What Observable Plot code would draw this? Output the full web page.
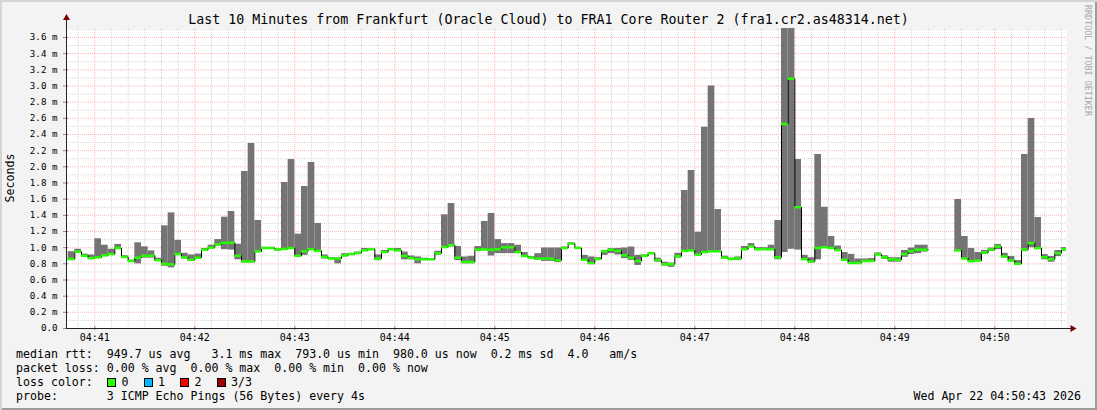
<!DOCTYPE html>
<html><head><meta charset="utf-8">
<script src="https://cdn.jsdelivr.net/npm/d3@7"></script>
<script src="https://cdn.jsdelivr.net/npm/@observablehq/plot@0.6"></script>
<style>
html,body{margin:0;padding:0;background:#f3f3f3;}
#wrap{position:relative;width:1097px;height:410px;background:#f3f3f3;overflow:hidden;font-family:"DejaVu Sans Mono",monospace;color:#000;box-shadow: inset 2px 2px 0 #d4d4d4, inset -2px -2px 0 #9c9c9c;}
#wrap svg{position:absolute;left:0;top:0;}
.t{position:absolute;white-space:pre;line-height:14px;}
#title{left:0;width:1097px;text-align:center;top:13px;font-size:13.3px;}
.leg{left:16px;font-size:11.6px;}
.sq{position:absolute;width:7px;height:7px;border:1px solid #000;}
#rrd{position:absolute;left:1083px;top:5px;writing-mode:vertical-rl;font-size:8.4px;color:#a8a8a8;white-space:pre;}
#ylab{left:-40px;top:171px;width:100px;text-align:center;font-size:11.6px;transform:rotate(-90deg);}
</style></head>
<body><div id="wrap"></div>
<script>
// ---------- data ----------
const title = "Last 10 Minutes from Frankfurt (Oracle Cloud) to FRA1 Core Router 2 (fra1.cr2.as48314.net)";
const yLabel = "Seconds";
const windowStart = "04:40:43";
const windowEnd = "04:50:43";
const firstStep = "04:40:44";
const stepSeconds = 4;
const xTickLabels = ["04:41","04:42","04:43","04:44","04:45","04:46","04:47","04:48","04:49","04:50"];
const yTicks = [0,0.2,0.4,0.6,0.8,1.0,1.2,1.4,1.6,1.8,2.0,2.2,2.4,2.6,2.8,3.0,3.2,3.4,3.6];
const yMax = 3.711;

// median rtt per 4 s step (ms); null = no data
const median = [
0.86,0.95,0.90,0.87,0.88,0.905,0.92,0.995,0.885,0.835,
0.875,0.90,0.90,0.845,0.80,0.793,0.92,0.88,0.85,0.875,
0.975,1.0,1.04,1.06,1.06,0.90,0.83,0.83,0.955,0.995,
0.995,0.975,0.985,0.995,0.90,0.955,0.98,0.96,0.885,0.865,
0.865,0.905,0.92,0.935,0.967,0.98,0.865,0.946,0.98,0.967,
0.897,0.872,0.856,0.856,0.856,0.93,1.008,1.03,0.876,0.823,
0.823,0.975,0.98,0.975,0.98,1.004,1.004,0.946,0.897,0.876,
0.864,0.864,0.864,0.843,0.996,1.05,0.996,0.85,0.81,0.86,
0.955,0.975,0.96,0.905,0.876,0.835,0.90,0.93,0.847,0.795,
0.795,0.893,0.96,0.965,0.915,0.945,0.955,0.955,0.876,0.86,
0.866,0.98,1.015,0.98,0.98,0.98,0.88,2.53,3.09,1.50,
0.858,0.828,0.996,1.006,0.996,0.97,0.85,0.81,0.81,0.835,
0.835,0.917,0.88,0.856,0.85,0.92,0.955,0.975,0.975,null,
null,null,null,0.965,0.866,0.833,0.84,0.94,0.977,1.014,
0.89,0.84,0.80,0.977,1.056,0.994,0.882,0.857,0.932,0.98];

// smoke: lowest and highest ping per step (ms)
const smokeLow = [
0.84,0.93,0.88,0.86,0.87,0.89,0.91,0.98,0.87,0.83,
0.80,0.87,0.87,0.83,0.77,0.75,0.91,0.86,0.83,0.86,
0.96,0.99,1.02,0.975,0.97,0.85,0.81,0.81,0.945,0.985,
0.985,0.965,0.975,0.985,0.895,0.905,0.97,0.95,0.86,0.855,
0.80,0.885,0.91,0.925,0.955,0.97,0.84,0.935,0.97,0.95,
0.85,0.85,0.80,0.85,0.85,0.905,0.99,1.01,0.84,0.80,
0.80,0.96,0.96,0.897,0.926,0.926,0.926,0.926,0.885,0.865,
0.843,0.83,0.83,0.814,0.99,1.04,0.99,0.843,0.79,0.85,
0.905,0.926,0.91,0.864,0.843,0.78,0.89,0.92,0.82,0.773,
0.757,0.87,0.95,0.955,0.90,0.935,0.945,0.945,0.865,0.85,
0.84,0.965,1.005,0.97,0.97,0.97,0.85,0.94,0.98,0.97,
0.845,0.81,0.85,0.99,0.98,0.955,0.835,0.81,0.80,0.825,
0.825,0.90,0.855,0.82,0.82,0.88,0.915,0.925,0.945,null,
null,null,null,0.955,0.85,0.82,0.83,0.915,0.955,0.975,
0.87,0.825,0.785,0.95,1.0,0.98,0.85,0.82,0.89,0.955];

const smokeHigh = [
0.95,0.98,0.92,0.91,1.11,1.03,0.98,1.04,0.90,0.845,
1.06,1.01,0.96,0.87,1.27,1.43,1.09,0.93,0.91,0.92,
0.99,1.03,1.10,1.377,1.447,1.043,1.942,2.289,1.336,1.005,
1.005,0.985,1.806,2.09,1.167,1.757,2.054,1.30,0.91,0.875,
0.875,0.925,0.93,0.945,0.99,0.99,0.91,0.965,0.99,0.99,
0.946,0.897,0.885,0.87,0.865,0.955,1.406,1.546,1.014,0.885,
0.893,1.014,1.324,1.423,1.10,1.05,1.05,1.03,0.94,0.89,
0.926,0.996,0.996,0.996,1.008,1.06,1.005,0.905,0.885,0.876,
0.966,0.99,0.99,0.996,1.008,0.905,0.91,0.94,0.87,0.82,
0.81,0.93,1.707,1.955,1.19,2.49,3.0,1.472,0.895,0.87,
0.885,1.015,1.05,1.0,1.0,1.03,1.336,3.9,3.9,2.09,
0.905,0.875,2.153,1.50,1.138,1.02,0.94,0.917,0.86,0.86,
0.865,0.935,0.90,0.875,0.875,0.965,0.995,1.03,1.03,null,
null,null,null,1.596,1.138,0.99,0.94,0.965,0.995,1.04,
0.93,0.89,0.84,2.153,2.598,1.373,0.915,0.89,0.965,1.0];

const legendRows = [
  "median rtt:  949.7 us avg   3.1 ms max  793.0 us min  980.0 us now  0.2 ms sd  4.0   am/s",
  "packet loss: 0.00 % avg  0.00 % max  0.00 % min  0.00 % now",
  "loss color:",
  "probe:       3 ICMP Echo Pings (56 Bytes) every 4s"
];
const lossLabels = ["0","1","2","3/3"];
const lossColors = ["#26ff00","#00b8ff","#ff0000","#a00000"];
const timestamp = "Wed Apr 22 04:50:43 2026";
const credit = "RRDTOOL / TOBI OETIKER";

// ---------- build ----------
const toSec = s => { const p = s.split(":").map(Number); return p[0]*3600 + p[1]*60 + (p[2]||0); };
const secLabel = s => { const h = Math.floor(s/3600), m = Math.floor((s%3600)/60); return String(h).padStart(2,"0")+":"+String(m).padStart(2,"0"); };
const T0 = toSec(windowStart), T1 = toSec(windowEnd), S0 = toSec(firstStep);
const rows = median.map((m,i)=>({x1:S0+i*stepSeconds, x2:S0+(i+1)*stepSeconds, med:m, lo:smokeLow[i], hi:smokeHigh[i]}));
const valid = rows.filter(r=>r.med!=null);
const linePts = [];
rows.forEach(r=>{ if(r.med==null){ linePts.push({x:r.x1,y:NaN}); } else { linePts.push({x:r.x1,y:r.med},{x:r.x2,y:r.med}); } });
const xTicks = xTickLabels.map(toSec);
const minorY = d3.range(1, 38, 2).map(i=>i/10);
const majorY = yTicks.filter(d=>d>0);
const minorX = d3.range(Math.ceil(T0/10)*10, T1, 10).filter(s=>s%60!==0);

const mgrid = "#ffb3b3", grid = "#d6d6d6";
const plot = Plot.plot({
  width: 1097, height: 345,
  marginLeft: 66, marginRight: 31, marginTop: 28, marginBottom: 17,
  x: {type:"linear", domain:[T0, T1], axis:null},
  y: {domain:[0, yMax], axis:null},
  style: {background:"transparent", fontFamily:"DejaVu Sans Mono", overflow:"visible"},
  marks: [
    Plot.frame({fill:"#fff", stroke:"none"}),
    Plot.ruleY(minorY, {stroke:grid, strokeDasharray:"1,1"}),
    Plot.ruleX(minorX, {stroke:grid, strokeDasharray:"1,1"}),
    Plot.ruleY(majorY, {stroke:mgrid, strokeDasharray:"1,1"}),
    Plot.ruleX(xTicks, {stroke:mgrid, strokeDasharray:"1,1"}),
    Plot.rect(valid, {x1:"x1", x2:"x2", y1:"lo", y2:"hi", fill:"#747474", clip:true}),
    Plot.line(linePts, {x:"x", y:"y", stroke:"#000", strokeWidth:1, clip:true}),
    Plot.ruleY(valid, {y:"med", x1:"x1", x2:"x2", stroke:lossColors[0], strokeWidth:2.5, clip:true}),
    // axes
    Plot.ruleY(yTicks, {x1:T0-1.8, x2:T0+1.2, stroke:"#888"}),
    Plot.ruleX(xTicks, {y1:-0.025, y2:0.025, stroke:"#888"}),
    Plot.ruleX([T0], {y1:0, y2:3.83, stroke:"#222"}),
    Plot.ruleY([0], {x1:T0, x2:T1+3.5, stroke:"#222"}),
    Plot.dot([0], {x:T0, y:3.84, symbol:"triangle", r:2.6, fill:"#800000", stroke:"none"}),
    Plot.dot([0], {x:T1+3.6, y:0, symbol:"triangle", rotate:90, r:2.6, fill:"#800000", stroke:"none"}),
    Plot.text(yTicks, {x:T0, y:d=>d, text:d=>d===0?"0.0":d.toFixed(1)+" m", textAnchor:"end", dx:-9, fontSize:9.2, fill:"#000"}),
    Plot.text(xTicks, {x:d=>d, y:0, text:d=>secLabel(d), dy:9.5, fontSize:10, fill:"#000"})
  ]
});
const wrap = document.getElementById("wrap");
wrap.appendChild(plot);

function addText(cls, txt, style){ const d=document.createElement("div"); d.className="t "+cls; d.textContent=txt; Object.assign(d.style, style||{}); wrap.appendChild(d); return d; }
const tt = addText("", title, {}); tt.id="title";
const yl = addText("", yLabel, {}); yl.id="ylab";
const rowTops = [346.5, 360.5, 374.5, 388.5];
legendRows.forEach((r,i)=>addText("leg", r, {top:rowTops[i]+"px"}));
lossLabels.forEach((lab,i)=>{
  const sq=document.createElement("div"); sq.className="sq";
  sq.style.left=(107+36.5*i)+"px"; sq.style.top="378px"; sq.style.background=lossColors[i];
  wrap.appendChild(sq);
  addText("leg", lab, {left:(121.5+36.5*i)+"px", top:rowTops[2]+"px"});
});
addText("leg", timestamp, {left:"auto", right:"16px", top:rowTops[3]+"px"});
const cr=document.createElement("div"); cr.id="rrd"; cr.textContent=credit; wrap.appendChild(cr);
</script>
</body></html>
